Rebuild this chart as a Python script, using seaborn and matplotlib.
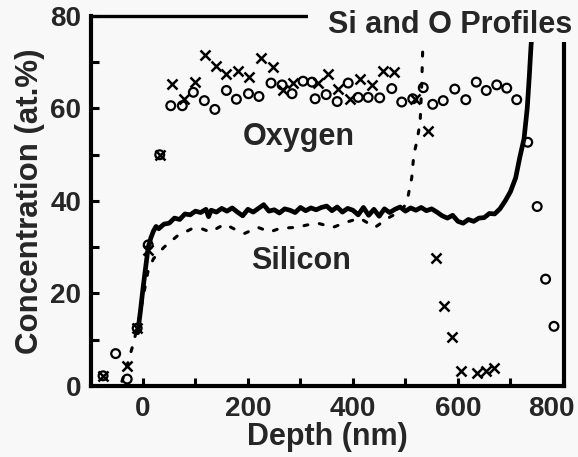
import matplotlib
matplotlib.use("Agg")
import matplotlib.pyplot as plt
from matplotlib.patches import Rectangle
from matplotlib.ticker import MultipleLocator
from matplotlib.transforms import ScaledTranslation
import numpy as np
import pandas as pd
import seaborn as sns

# ---- data -------------------------------------------------------------
# Si concentration, film A (solid line)
si_a_depth = [-10, -5, 0, 5, 10, 15, 20, 25, 30, 40, 50, 60, 70, 80, 90, 100,
              110, 120, 125, 130, 140, 150, 160, 170, 180, 190, 200, 210, 220,
              230, 240, 250, 260, 270, 280, 290, 300, 310, 320, 330, 340, 350,
              360, 370, 380, 390, 400, 410, 420, 430, 440, 450, 460, 470, 480,
              490, 500, 510, 520, 530, 540, 550, 560, 570, 580, 590, 600, 610,
              620, 630, 640, 650, 660, 670, 680, 690, 700, 710, 718, 726, 732,
              736, 739, 742, 745]
si_a_conc = [11.5, 16.0, 21.0, 25.5, 30.0, 32.0, 33.5, 34.5, 34.0, 35.0, 35.2,
             36.3, 36.0, 37.2, 37.0, 37.8, 37.5, 38.2, 36.6, 38.0, 37.6, 38.4,
             37.8, 38.5, 37.6, 36.8, 38.2, 37.6, 38.4, 39.2, 37.8, 38.1, 37.4,
             38.3, 38.0, 37.5, 38.6, 37.9, 38.5, 38.1, 38.6, 38.9, 37.9, 38.7,
             37.6, 38.4, 38.0, 37.0, 38.6, 36.9, 38.2, 36.7, 38.3, 37.5, 38.2,
             38.7, 37.8, 38.5, 38.0, 38.6, 37.9, 38.3, 37.6, 36.8, 36.3, 36.9,
             35.6, 35.2, 36.0, 35.6, 36.3, 36.4, 37.3, 37.2, 38.3, 40.0, 42.0,
             45.0, 49.5, 53.5, 60.0, 67.0, 73.0, 78.0, 84.0]

# Si concentration, film B (dashed line)
si_b_depth = [-40, -30, -20, -10, 0, 10, 20, 40, 65, 93, 112, 128, 156, 185,
              194, 219, 242, 261, 293, 312, 333, 362, 390, 413, 442, 470, 495,
              505, 512, 516, 522, 528, 531, 533, 535]
si_b_conc = [1.0, 4.5, 8.5, 13.0, 19.0, 25.0, 27.5, 30.0, 32.4, 34.0, 34.0,
             33.3, 35.0, 33.3, 33.0, 34.3, 33.3, 34.1, 34.3, 34.8, 35.2, 34.3,
             35.5, 36.3, 34.3, 36.5, 38.0, 41.0, 45.0, 50.0, 53.0, 57.0, 65.0,
             73.0, 82.0]

# O concentration, film A (open circles)
o_a_depth = [-76, -52, -30, -11, 10, 32, 53, 75, 96, 117, 137, 159, 178, 201,
             221, 244, 265, 284, 305, 322, 328, 349, 370, 391, 410, 429, 451,
             474, 493, 514, 534, 552, 572, 594, 615, 635, 654, 674, 693, 712,
             733, 751, 767, 783]
o_a_conc = [2.2, 7.0, 1.5, 12.5, 30.5, 50.0, 60.6, 60.6, 63.5, 61.7, 59.8,
            63.9, 62.0, 63.2, 62.6, 65.5, 65.1, 63.2, 65.9, 65.7, 62.1, 63.0,
            61.5, 65.5, 62.4, 62.4, 62.3, 64.3, 61.4, 62.1, 64.5, 60.9, 61.7,
            64.2, 61.9, 65.7, 63.9, 65.1, 64.4, 61.9, 52.7, 38.8, 23.1, 12.9]

# O concentration, film B (crosses)
o_b_depth = [-76, -30, -11, 10, 32, 55, 78, 99, 118, 139, 159, 181, 202, 224,
             248, 267, 285, 333, 352, 371, 394, 413, 437, 458, 479, 518, 543,
             558, 573, 589, 606, 636, 653, 669]
o_b_conc = [2.2, 4.3, 12.5, 29.5, 50.0, 65.3, 62.1, 65.7, 71.5, 69.1, 67.4,
            68.0, 66.8, 71.0, 69.0, 63.9, 65.5, 65.5, 67.5, 64.3, 62.1, 66.4,
            65.0, 68.1, 67.9, 62.1, 55.2, 27.6, 17.3, 10.6, 3.2, 2.8, 3.2, 3.9]

x_ticks = [0, 200, 400, 600, 800]
y_ticks = [0, 20, 40, 60, 80]

# ---- style ------------------------------------------------------------
sns.set_theme(style="ticks")
bg = "#f8f8f8"
plt.rcParams["font.family"] = ["Liberation Sans", "DejaVu Sans"]
plt.rcParams["font.weight"] = "bold"

fig = plt.figure(figsize=(5.78, 4.57), dpi=100, facecolor=bg)
ax = fig.add_axes([0.1574, 0.1554, 0.8183, 0.8096], facecolor=bg)

sns.lineplot(x=si_a_depth, y=si_a_conc, ax=ax, color="black", lw=3.4,
             sort=False, estimator=None, solid_joinstyle="round")
sns.lineplot(x=si_b_depth, y=si_b_conc, ax=ax, color="black", lw=2.2,
             sort=False, estimator=None, linestyle=(0, (1.3, 3.8)),
             dash_capstyle="round")
sns.scatterplot(x=o_a_depth, y=o_a_conc, ax=ax, marker="o", s=40,
                facecolor="none", edgecolor="black", linewidth=1.6, zorder=4)
sns.scatterplot(x=o_b_depth, y=o_b_conc, ax=ax, marker="x", s=52,
                color="black", linewidth=1.8, zorder=4)

ax.set_xlim(-99, 802)
ax.set_ylim(0, 80)
ax.set_xticks(x_ticks)
ax.set_yticks(y_ticks)
ax.xaxis.set_minor_locator(MultipleLocator(100))
ax.yaxis.set_minor_locator(MultipleLocator(10))
ax.tick_params(which="both", direction="in", length=6, width=2.2,
               color="black", top=False, right=False)
ax.tick_params(which="major", labelsize=20, pad=7)
for lbl in ax.get_xticklabels() + ax.get_yticklabels():
    lbl.set_fontweight("bold")

# keep the last depth label inside the figure edge
last = ax.get_xticklabels()[-1]
last.set_transform(last.get_transform()
                   + ScaledTranslation(-12 / 100, 0, fig.dpi_scale_trans))

for side, lw in {"left": 3.0, "bottom": 3.0, "top": 2.4, "right": 3.0}.items():
    ax.spines[side].set_visible(True)
    ax.spines[side].set_linewidth(lw)
    ax.spines[side].set_color("black")

ax.set_xlabel("Depth (nm)", fontsize=22, fontweight="bold", labelpad=0)
ax.set_ylabel("Concentration (at.%)", fontsize=22.5, fontweight="bold",
              labelpad=4)

ax.text(190, 52, "Oxygen", fontsize=22, fontweight="bold", ha="left",
        va="baseline")
ax.text(206, 25.4, "Silicon", fontsize=22, fontweight="bold", ha="left",
        va="baseline")

# title sits on a plain patch that interrupts the frame at the upper right
fig.patches.append(Rectangle((0.533, 0.908), 0.467, 0.092,
                             transform=fig.transFigure, facecolor=bg,
                             edgecolor="none", zorder=5))
fig.text(0.9896, 0.928, "Si and O Profiles", fontsize=22, fontweight="bold",
         ha="right", va="baseline", zorder=6)

fig.savefig("out.png", dpi=100, facecolor=bg)
